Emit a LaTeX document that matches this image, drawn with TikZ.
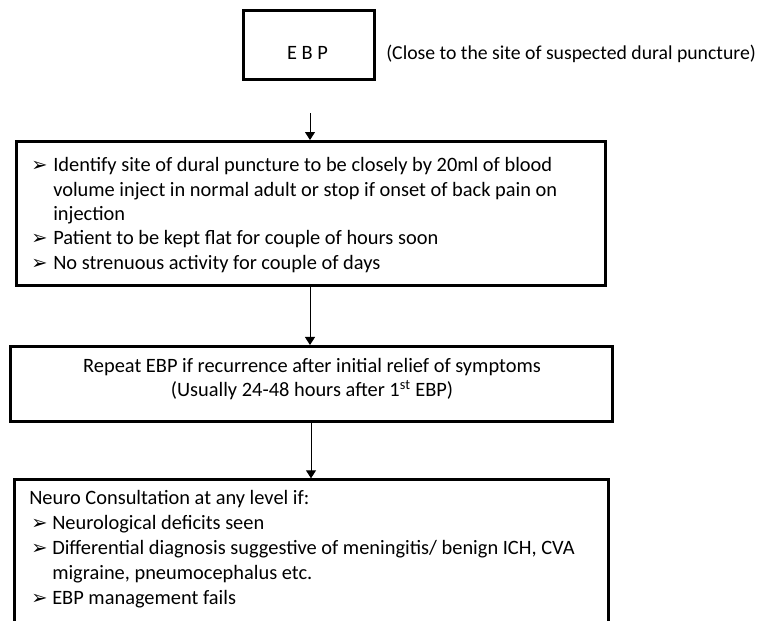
\documentclass[tikz,border=0pt]{standalone}
\usepackage{fontspec}
\setmainfont{Carlito}
\newfontfamily\symfont{DejaVu Sans}
\usetikzlibrary{arrows.meta}
\begin{document}
\begin{tikzpicture}[x=0.75pt,y=-0.75pt,
  box/.style={draw=black, line width=2.25pt, inner sep=0pt, fill=none},
  txt/.style={inner sep=0pt, anchor=base west, font=\fontsize{15.3pt}{18.4pt}\selectfont},
  ctxt/.style={txt, anchor=base},
  bul/.style={inner sep=0pt, anchor=base west, font=\symfont\fontsize{14.5pt}{17pt}\selectfont},
  conn/.style={line width=0.75pt, -{Triangle[width=7.5pt,length=6pt]}}]
\useasboundingbox (0,0) rectangle (772,621);
\clip (0,0) rectangle (772,621);
% boxes
\node[box, minimum width=98.0pt, minimum height=51.2pt] (b1) at (308.7,44.9) {};
\node[box, minimum width=441.4pt, minimum height=108.15pt] (b2) at (310.75,213.6) {};
\node[box, minimum width=451.7pt, minimum height=55.9pt] (b3) at (311.15,383.75) {};
\node[box, minimum width=445.65pt, minimum height=225pt, anchor=north] (b4) at (311.4,478.3) {};
% box 1
\node[ctxt] (t1) at (307.5,60) {E B P};
\node[txt, font=\fontsize{14.8pt}{18pt}\selectfont] (side) at (386,60) {(Close to the site of suspected dural puncture)};
% box 2
\node[bul] (k21) at (31,171.7) {➢};
\node[txt] (l21) at (53,171.7) {Identify site of dural puncture to be closely by 20ml of blood};
\node[txt] (l22) at (53,196.1) {volume inject in normal adult or stop if onset of back pain on};
\node[txt] (l23) at (53,220.5) {injection};
\node[bul] (k24) at (31,244.9) {➢};
\node[txt] (l24) at (53,244.9) {Patient to be kept flat for couple of hours soon};
\node[bul] (k25) at (31,269.2) {➢};
\node[txt] (l25) at (53,269.2) {No strenuous activity for couple of days};
% box 3
\node[ctxt] (l31) at (312,372) {Repeat EBP if recurrence after initial relief of symptoms};
\node[ctxt] (l32) at (312,396.5) {(Usually 24-48 hours after 1\textsuperscript{st} EBP)};
% box 4
\node[txt] (l41) at (29,504.5) {Neuro Consultation at any level if:};
\node[bul] (k42) at (31,529.5) {➢};
\node[txt] (l42) at (52,529.5) {Neurological deficits seen};
\node[bul] (k43) at (31,554.5) {➢};
\node[txt] (l43) at (52,554.5) {Differential diagnosis suggestive of meningitis/ benign ICH, CVA};
\node[txt] (l44) at (52,579.5) {migraine, pneumocephalus etc.};
\node[bul] (k45) at (31,604.5) {➢};
\node[txt] (l45) at (52,604.5) {EBP management fails};
% connectors
\coordinate (a1s) at (310,113);
\coordinate (a2s) at (310,285.7);
\coordinate (a3s) at (311,421);
\draw[conn] (a1s) -- (a1s |- b2.north);
\draw[conn] (a2s) -- (a2s |- b3.north);
\draw[conn] (a3s) -- (a3s |- b4.north);
\end{tikzpicture}
\end{document}
